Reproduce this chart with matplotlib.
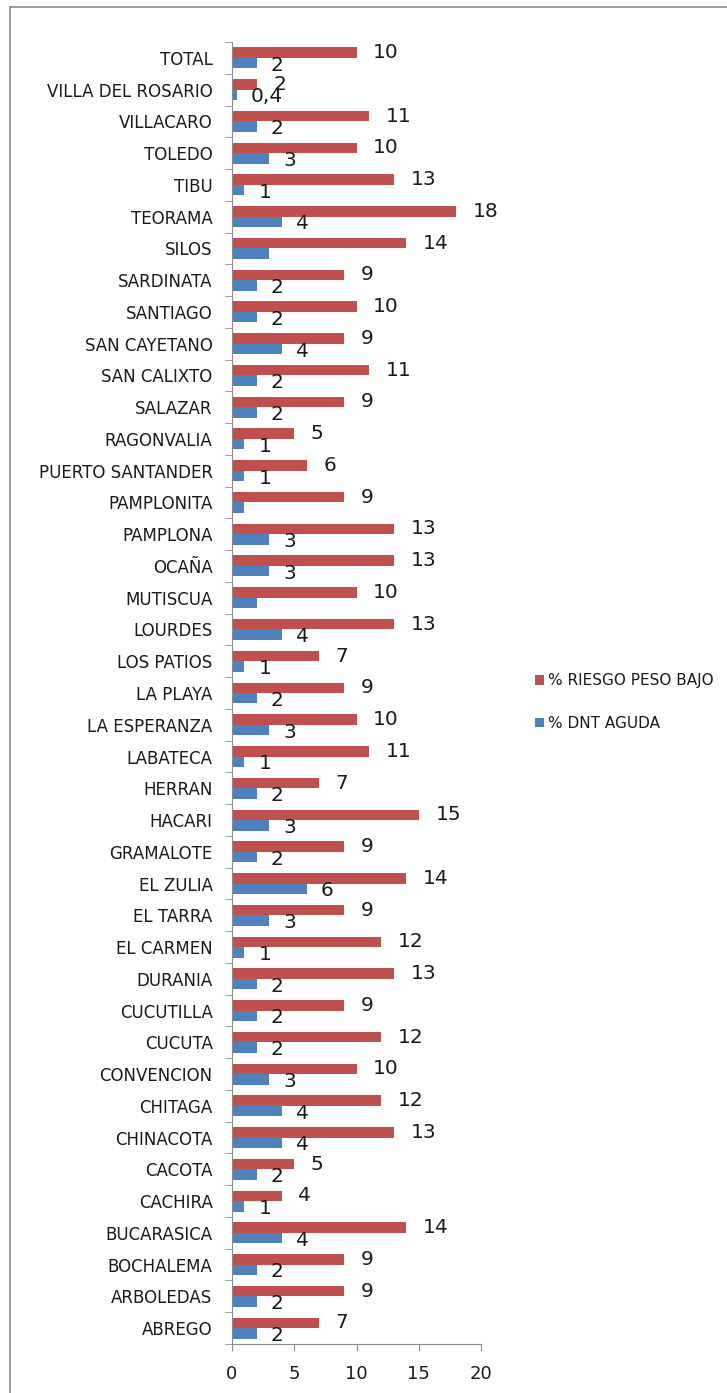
import matplotlib.pyplot as plt
from matplotlib.patches import Rectangle

municipios = ["ABREGO", "ARBOLEDAS", "BOCHALEMA", "BUCARASICA", "CACHIRA", "CACOTA",
              "CHINACOTA", "CHITAGA", "CONVENCION", "CUCUTA", "CUCUTILLA", "DURANIA",
              "EL CARMEN", "EL TARRA", "EL ZULIA", "GRAMALOTE", "HACARI", "HERRAN",
              "LABATECA", "LA ESPERANZA", "LA PLAYA", "LOS PATIOS", "LOURDES", "MUTISCUA",
              "OCAÑA", "PAMPLONA", "PAMPLONITA", "PUERTO SANTANDER", "RAGONVALIA", "SALAZAR",
              "SAN CALIXTO", "SAN CAYETANO", "SANTIAGO", "SARDINATA", "SILOS", "TEORAMA",
              "TIBU", "TOLEDO", "VILLACARO", "VILLA DEL ROSARIO", "TOTAL"]
riesgo = [7, 9, 9, 14, 4, 5, 13, 12, 10, 12, 9, 13, 12, 9, 14, 9, 15, 7, 11, 10, 9, 7,
          13, 10, 13, 13, 9, 6, 5, 9, 11, 9, 10, 9, 14, 18, 13, 10, 11, 2, 10]
dnt = [2, 2, 2, 4, 1, 2, 4, 4, 3, 2, 2, 2, 1, 3, 6, 2, 3, 2, 1, 3, 2, 1,
       4, 2, 3, 3, 1, 1, 1, 2, 2, 4, 2, 2, 3, 4, 1, 3, 2, 0.4, 2]
# blue labels that are not shown in the original
dnt_sin_etiqueta = ["MUTISCUA", "PAMPLONITA", "SILOS"]

RED = "#C0504D"
BLUE = "#4F81BD"
TXT = "#1a1a1a"

fig = plt.figure(figsize=(7.27, 13.93), dpi=100)
fig.patches.append(Rectangle((10 / 727, -0.1), 1.2, 1 - 7 / 1393 + 0.1,
                             transform=fig.transFigure, fill=False,
                             edgecolor="#8c8c8c", lw=1.2))
ax = fig.add_axes([232 / 727, 49 / 1393, 249 / 727, 1302 / 1393])

y = list(range(len(municipios)))
h = 0.33
ax.barh([v + h / 2 for v in y], riesgo, height=h, color=RED, label="% RIESGO PESO BAJO")
ax.barh([v - h / 2 for v in y], dnt, height=h, color=BLUE, label="% DNT AGUDA")

for i, name in enumerate(municipios):
    ax.annotate(f"{riesgo[i]:g}", (riesgo[i], i + h / 2), xytext=(12, 0),
                textcoords="offset points", va="center", ha="left", fontsize=14.5,
                color=TXT)
    if name not in dnt_sin_etiqueta:
        lab = f"{dnt[i]:g}".replace(".", ",")
        ax.annotate(lab, (dnt[i], i - h / 2), xytext=(10, -1.5),
                    textcoords="offset points", va="center", ha="left", fontsize=14.5,
                    color=TXT)

ax.set_ylim(-0.5, len(municipios) - 0.5)
ax.set_xlim(0, 20)
ax.set_xticks([0, 5, 10, 15, 20])
ax.set_yticks(y)
ax.set_yticklabels(municipios, fontsize=12, color=TXT)
ax.set_yticks([v + 0.5 for v in range(-1, len(municipios))], minor=True)
ax.tick_params(axis="y", which="major", length=0, pad=14)
ax.tick_params(axis="y", which="minor", length=5, color="#8c8c8c")
ax.tick_params(axis="x", length=5, color="#8c8c8c", labelsize=13, pad=10, labelcolor=TXT)
for s in ["top", "right"]:
    ax.spines[s].set_visible(False)
for s in ["left", "bottom"]:
    ax.spines[s].set_color("#8c8c8c")

ax.legend(loc="center left", bbox_to_anchor=(1.16, 0.493), frameon=False, fontsize=11,
          handlelength=0.6, handleheight=0.6, handletextpad=0.3, labelspacing=1.8,
          labelcolor=TXT)

fig.savefig("out.png", dpi=100)
